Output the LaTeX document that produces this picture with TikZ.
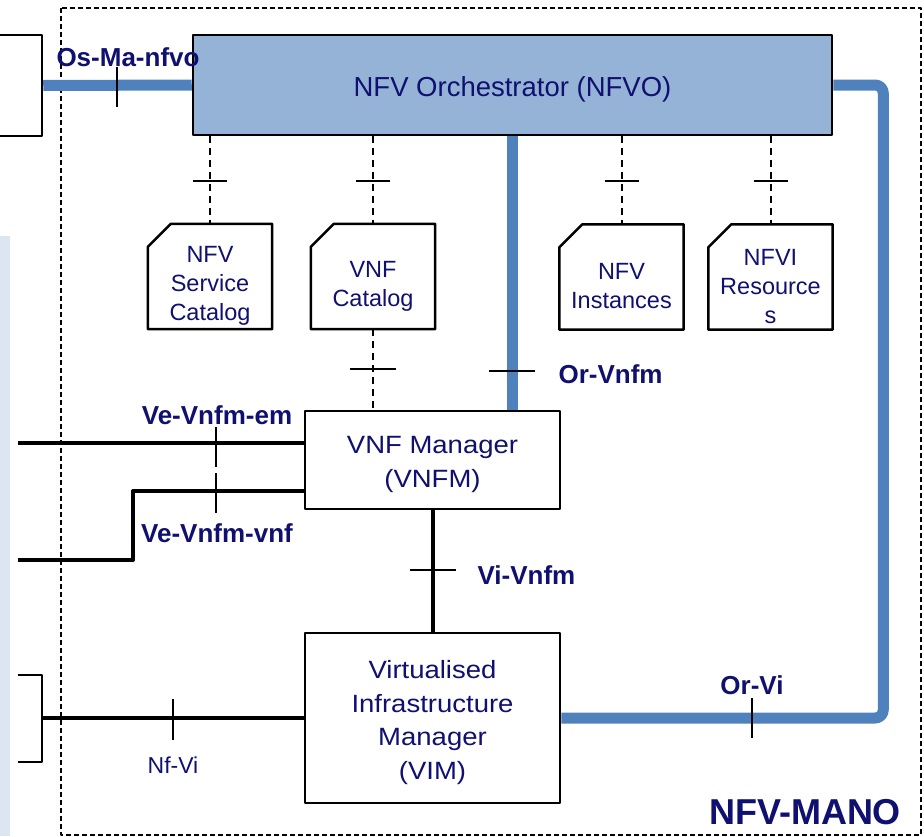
\documentclass[tikz,border=0pt]{standalone}
\usepackage{fontspec}
\setmainfont{Liberation Sans}
\newfontfamily\mgrfont[FakeStretch=1.1]{Liberation Sans}
\definecolor{navytext}{RGB}{16,16,112}
\definecolor{ifblue}{RGB}{79,129,189}
\definecolor{nfvofill}{RGB}{149,179,215}
\definecolor{panelblue}{RGB}{220,230,242}

\begin{document}
\begin{tikzpicture}[x=1pt, y=-1pt, line join=round,
    mbox/.style={draw, line width=2.5pt, fill=white, inner sep=0pt},
    boxtext/.style={text=navytext, align=center, font=\mgrfont\fontsize{25}{33.5}\selectfont, yshift=-4.5pt},
    docbox/.style={minimum width=124pt, minimum height=105pt, inner sep=0pt},
    doctext/.style={text=navytext, align=center, font=\fontsize{23.5}{29}\selectfont, yshift=-9.5pt},
    ifline/.style={ifblue, line width=11pt},
    refline/.style={line width=4pt},
    dashline/.style={line width=2pt, dash pattern=on 7pt off 5pt},
    tickmark/.style={line width=2pt},
    iflabel/.style={text=navytext, font=\fontsize{26}{26}\selectfont\bfseries}]
  \useasboundingbox (0,0) rectangle (924,836);
  % --- 左側の背景と NFV-MANO の枠 ---
  \fill[panelblue] (0,236) rectangle (10,836);
  \draw[line width=2pt, dash pattern=on 5pt off 3pt] (61,8) rectangle (921,835);

  % --- 箱 ---
  \node[mbox, minimum width=100pt, minimum height=101pt] (oss) at (-8,85.5) {};
  \node[mbox, fill=nfvofill, minimum width=639pt, minimum height=100pt,
        label={[boxtext, font=\fontsize{27.5}{33}\selectfont, yshift=0.5pt]center:NFV Orchestrator (NFVO)}] (nfvo) at (512.5,85) {};
  \node[mbox, minimum width=255pt, minimum height=98pt,
        label={[boxtext]center:{VNF Manager\\(VNFM)}}] (vnfm) at (432.5,460) {};
  \node[mbox, minimum width=255pt, minimum height=170pt,
        label={[boxtext]center:{Virtualised\\Infrastructure\\Manager\\(VIM)}}] (vim) at (432.5,718) {};

  % --- カタログ(角の欠けた箱) ---
  \node[docbox, label={[doctext]center:{NFV\\Service\\Catalog}}] (svccat) at (210,276.5) {};
  \node[docbox, label={[doctext]center:{VNF\\Catalog}}] (vnfcat) at (373,276.5) {};
  \node[docbox, label={[doctext]center:{NFV\\Instances}}] (nfvinst) at (621.5,277) {};
  \node[docbox, label={[doctext]center:{NFVI\\Resource\\s}}] (nfvires) at (770.5,277) {};
  \foreach \d in {svccat,vnfcat,nfvinst,nfvires} {
    \draw[line width=2.5pt] (\d.south west) -- (\d.south east) -- (\d.north east)
      -- ([xshift=23pt]\d.north west) -- ([yshift=-23pt]\d.north west) -- cycle;
    % 点線とその目盛
    \draw[dashline] (nfvo.south -| \d.north) -- (\d.north);
    \draw[tickmark] (\d.north |- 0,181) ++(-17,0) -- ++(34,0);
  }

  % --- 青い参照点 ---
  \draw[ifline] (oss.east) -- (nfvo.west);
  \draw[tickmark] (117,67) -- (117,107);
  \node[iflabel] (osmalbl) at (128,57) {Os-Ma-nfvo};

  \draw[ifline] (nfvo.south) -- (nfvo.south |- vnfm.north);
  \draw[tickmark] (489,371) -- (535,371);
  \node[iflabel, right] (orvnfmlbl) at (555,374) {Or-Vnfm};

  \draw[ifline, rounded corners=8pt] (nfvo.east) -- ++(50,0) |- (vim.east);
  \draw[tickmark] (752,698) -- (752,738);
  \node[iflabel] (orvilbl) at (752,685) {Or-Vi};

  % --- 黒い参照点 ---
  \draw[dashline] (vnfcat.south) -- (vnfcat.south |- vnfm.north);
  \draw[tickmark] (350,369) -- (396,369);

  \draw[refline] (vnfm.south) -- (vim.north);
  \draw[tickmark] (410,570) -- (456,570);
  \node[iflabel, right] (vivnfmlbl) at (474,575) {Vi-Vnfm};

  \coordinate (emend) at (18,443);
  \coordinate (vnfend) at (18,560);
  \draw[refline] (emend) -- (vnfm.west |- emend);
  \draw[refline] (vnfend) -- (133,560) |- (vnfm.west |- 0,491);
  \draw[tickmark] (216,427) -- (216,467);
  \draw[tickmark] (216,473) -- (216,513);
  \node[iflabel] (emlbl) at (217,415) {Ve-Vnfm-em};
  \node[iflabel] (vnflbl) at (217,533) {Ve-Vnfm-vnf};

  \coordinate (nfviend) at (42,718);
  \draw[line width=2.5pt] (18,675) -- (42,675) -- (42,762) -- (18,762);
  \draw[refline] (nfviend) -- (vim.west);
  \draw[tickmark] (173,699) -- (173,740);
  \node[text=navytext, font=\fontsize{23}{23}\selectfont] (nfvilbl) at (173,765) {Nf-Vi};

  \node[text=navytext, font=\fontsize{36}{36}\selectfont\bfseries] (manolbl) at (805,812) {NFV-MANO};
\end{tikzpicture}
\end{document}
